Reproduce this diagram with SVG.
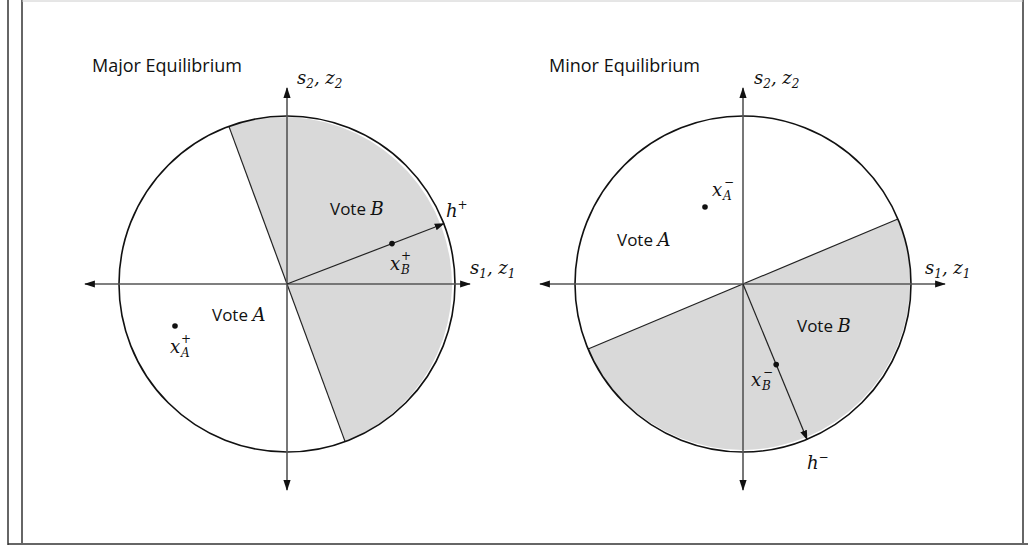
<svg xmlns="http://www.w3.org/2000/svg" width="1030" height="548" viewBox="0 0 1030 548">
<defs>
<marker id="ah" viewBox="0 0 10 10" refX="9" refY="5" markerWidth="10" markerHeight="10" markerUnits="userSpaceOnUse" orient="auto">
<path d="M0,1.5 L10,5 L0,8.5 Z" fill="#111"/>
</marker>
<marker id="ax" viewBox="0 0 12 10" refX="11" refY="5" markerWidth="12" markerHeight="9" markerUnits="userSpaceOnUse" orient="auto-start-reverse">
<path d="M0,1 L12,5 L0,9 Z" fill="#111"/>
</marker>
<style>
.frame{fill:none;stroke:#333;stroke-width:1.5}
.axis{fill:none;stroke:#555;stroke-width:1.6}
.circ{fill:none;stroke:#111;stroke-width:1.6}
.shade{fill:#d9d9d9;stroke:none}
.div{fill:none;stroke:#222;stroke-width:1.2}
.vec{fill:none;stroke:#222;stroke-width:1.2}
.title{font-family:"Open Sans","Liberation Sans",sans-serif;font-size:18px;fill:#111}
.lbl{font-family:"Open Sans","Liberation Sans",sans-serif;font-size:17px;fill:#111}
.m{font-family:"DejaVu Serif","Liberation Serif",serif;font-style:italic;font-size:18px;fill:#111}
.ms{font-family:"DejaVu Serif","Liberation Serif",serif;font-style:italic;font-size:12px;fill:#111}
.mu{font-family:"DejaVu Serif","Liberation Serif",serif;font-size:12px;fill:#111}
</style>
</defs>
<g id="frame">
<line class="frame" x1="8" y1="0" x2="8" y2="545"/>
<line class="frame" x1="22" y1="0" x2="22" y2="543"/>
<line class="frame" x1="8" y1="544" x2="1028" y2="544"/>
<line class="frame" x1="1023" y1="0" x2="1023" y2="543"/>
<line x1="22" y1="1" x2="1023" y2="1" stroke="#ccc" stroke-width="1"/>
</g>
<g id="left-panel">
<g id="left-shade"><path class="shade" d="M287,284 L228.9,126.4 A168,168 0 0 1 345.1,441.6 Z"/>
<line class="div" x1="228.9" y1="126.4" x2="345.1" y2="441.6"/></g>
<g id="left-circle"><circle class="circ" cx="287" cy="284" r="168"/></g>
<g id="left-axes">
<line class="axis" x1="85" y1="284" x2="470" y2="284" marker-start="url(#ax)" marker-end="url(#ax)"/>
<line class="axis" x1="287" y1="88" x2="287" y2="490" marker-start="url(#ax)" marker-end="url(#ax)"/>
</g>
<g id="left-vector">
<line class="vec" x1="287" y1="284" x2="443.8" y2="223.7" marker-end="url(#ah)"/>
<circle cx="392" cy="243.6" r="2.8" fill="#111"/>
<circle cx="175" cy="326" r="2.8" fill="#111"/>
</g>
<g id="left-labels">
<text class="title" x="92" y="72">Major Equilibrium</text>
<text class="m" x="297" y="84">s<tspan class="mu" dy="4">2</tspan><tspan dy="-4">, z</tspan><tspan class="mu" dy="4">2</tspan></text>
<text class="lbl" x="330" y="215">Vote <tspan class="m">B</tspan></text>
<text class="m" x="446" y="217">h<tspan class="mu" dy="-8">+</tspan></text>
<text class="m" x="390" y="270">x</text><text class="ms" x="401" y="274">B</text><text class="mu" x="401" y="260">+</text>
<text class="m" x="470" y="274">s<tspan class="mu" dy="4">1</tspan><tspan dy="-4">, z</tspan><tspan class="mu" dy="4">1</tspan></text>
<text class="lbl" x="212" y="321">Vote <tspan class="m">A</tspan></text>
<text class="m" x="170" y="353">x</text><text class="ms" x="181" y="357">A</text><text class="mu" x="181" y="343">+</text>
</g>
</g>
<g id="right-panel">
<g id="right-shade"><path class="shade" d="M743,284 L897.9,219 A168,168 0 0 1 588.1,349 Z"/>
<line class="div" x1="897.9" y1="219" x2="588.1" y2="349"/></g>
<g id="right-circle"><circle class="circ" cx="743" cy="284" r="168"/></g>
<g id="right-axes">
<line class="axis" x1="540" y1="284" x2="945" y2="284" marker-start="url(#ax)" marker-end="url(#ax)"/>
<line class="axis" x1="743" y1="88" x2="743" y2="490" marker-start="url(#ax)" marker-end="url(#ax)"/>
</g>
<g id="right-vector">
<line class="vec" x1="743" y1="284" x2="807" y2="439.3" marker-end="url(#ah)"/>
<circle cx="776.2" cy="364.6" r="2.8" fill="#111"/>
<circle cx="705" cy="207" r="2.8" fill="#111"/>
</g>
<g id="right-labels">
<text class="title" x="549" y="72">Minor Equilibrium</text>
<text class="m" x="754" y="84">s<tspan class="mu" dy="4">2</tspan><tspan dy="-4">, z</tspan><tspan class="mu" dy="4">2</tspan></text>
<text class="m" x="712" y="196">x</text><text class="ms" x="723" y="200">A</text><text class="mu" x="724" y="186">−</text>
<text class="lbl" x="617" y="246">Vote <tspan class="m">A</tspan></text>
<text class="m" x="925" y="274">s<tspan class="mu" dy="4">1</tspan><tspan dy="-4">, z</tspan><tspan class="mu" dy="4">1</tspan></text>
<text class="lbl" x="797" y="332">Vote <tspan class="m">B</tspan></text>
<text class="m" x="751" y="386">x</text><text class="ms" x="762" y="390">B</text><text class="mu" x="763" y="376">−</text>
<text class="m" x="807" y="469">h<tspan class="mu" dy="-8">−</tspan></text>
</g>
</g>
</svg>
